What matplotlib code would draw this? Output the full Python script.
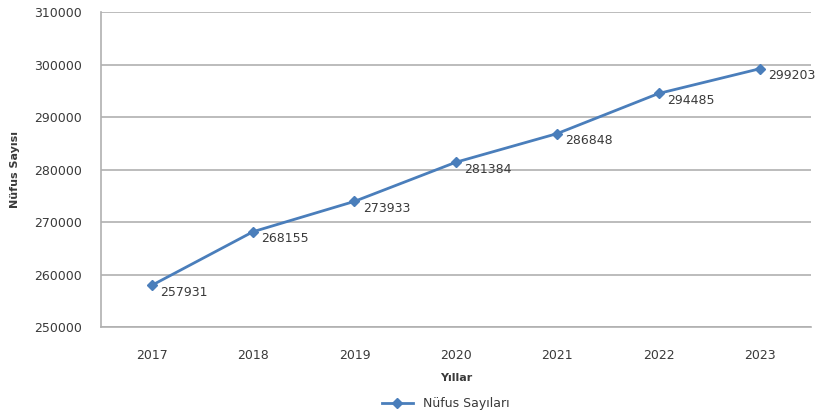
import matplotlib
matplotlib.use("Agg")
import matplotlib.pyplot as plt

# ----------DATA----------
years = ['2017', '2018', '2019', '2020', '2021', '2022', '2023']
nufus = [257931, 268155, 273933, 281384, 286848, 294485, 299203]
yticks = [250000, 260000, 270000, 280000, 290000, 300000, 310000]

line_col = '#4a7ebb'
grid_col = '#b0b0b0'
text_col = '#3a3a3a'

fig = plt.figure(figsize=(8.28, 4.15), dpi=100)
ax = fig.add_axes([0.122, 0.212, 0.857, 0.759])

x = range(len(years))
ax.plot(x, nufus, color=line_col, lw=2.0, marker='D', ms=5.5,
        markerfacecolor=line_col, markeredgecolor=line_col, label='Nüfus Sayıları')

for i, v in zip(x, nufus):
    ax.annotate(str(v), (i, v), xytext=(6, -5), textcoords='offset points',
                ha='left', va='center', fontsize=9, color=text_col)

ax.set_xlim(-0.5, len(years) - 0.5)
ax.set_ylim(250000, 310000)
ax.set_yticks(yticks)
ax.set_yticklabels([str(t) for t in yticks])
ax.set_xticks(list(x))
ax.set_xticklabels(years)
ax.tick_params(axis='both', length=0, labelsize=9, colors=text_col)
ax.tick_params(axis='y', pad=14)
ax.tick_params(axis='x', pad=16)

ax.grid(axis='y', color=grid_col, lw=1.2)
ax.set_axisbelow(True)
for s in ['top', 'right']:
    ax.spines[s].set_visible(False)
ax.spines['left'].set_color(grid_col)
ax.spines['bottom'].set_color(grid_col)
ax.spines['left'].set_linewidth(1.2)
ax.spines['bottom'].set_linewidth(1.2)

ax.set_xlabel('Yıllar', fontsize=8, fontweight='bold', color=text_col, labelpad=8)
ax.set_ylabel('Nüfus Sayısı', fontsize=8, fontweight='bold', color=text_col, labelpad=10)

fig.legend(loc='lower center', bbox_to_anchor=(0.538, -0.015), frameon=False,
           fontsize=9, handlelength=2.5, labelcolor=text_col)

fig.savefig('out.png', dpi=100)
